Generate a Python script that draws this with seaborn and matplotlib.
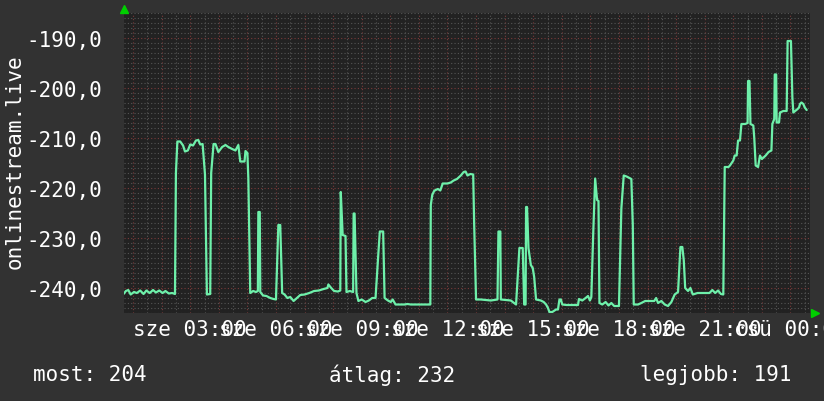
import numpy as np
import pandas as pd
import matplotlib
matplotlib.use("Agg")
import matplotlib.pyplot as plt
from matplotlib.ticker import FuncFormatter, MultipleLocator
import seaborn as sns

# minutes since Wednesday 00:00 and the measured value
minutes = [
    40, 45, 50, 55, 62, 68, 75, 82, 88, 95, 102, 108, 115, 122, 128, 135, 142, 148,
    150, 153, 159, 165, 169, 175, 180, 186, 192, 197, 201, 206, 211, 215, 222,
    224, 229, 233, 239, 247, 254, 260, 268, 275, 281, 285, 294, 296, 300, 302, 306,
    312, 318, 322, 323, 326, 327, 333, 340, 348, 355, 360, 362, 365, 369, 373, 378,
    384, 390, 397, 404, 411, 420, 430, 440, 450, 460, 468, 470, 476, 482, 490, 495,
    496, 500, 506, 508, 515, 522, 523, 525, 529, 533, 540, 548, 555, 562, 569,
    572, 575, 578, 585, 588, 595, 601, 605, 611, 620, 630, 636, 643, 660, 684,
    685, 688, 692, 695, 700, 705, 710, 720, 727, 733, 740, 748, 754, 758, 762, 768,
    774, 776, 780, 790, 800, 811, 825, 827, 831, 832, 843, 853, 864, 871, 878, 881,
    884, 885, 887, 890, 895, 899, 902, 906, 916, 922, 927, 931, 934, 940, 948, 952,
    955, 958, 961, 970, 980, 994, 996, 1003, 1010, 1015, 1019, 1022, 1026, 1030,
    1034, 1037, 1039, 1045, 1052, 1058, 1064, 1070, 1080, 1085, 1090, 1096, 1102,
    1106, 1109, 1111, 1120, 1127, 1135, 1141, 1150, 1154, 1158, 1162, 1169, 1176,
    1183, 1190, 1197, 1204, 1209, 1213, 1216, 1219, 1225, 1230, 1235, 1245, 1255,
    1270, 1276, 1282, 1288, 1294, 1299, 1302, 1310, 1313, 1320, 1323, 1327, 1330,
    1334, 1337, 1345, 1350, 1351, 1354, 1356, 1362, 1364, 1367, 1372, 1376, 1380,
    1388, 1394, 1400, 1402, 1406, 1407, 1410, 1411, 1416, 1418, 1425, 1432, 1434,
    1441, 1444, 1446, 1450, 1455, 1458, 1460, 1463, 1467, 1470, 1474,
]
values = [
    -241.2, -240.6, -240.4, -241.3, -240.8, -241.0, -240.5, -241.2, -240.5, -241.0,
    -240.4, -240.9, -240.5, -241.0, -240.6, -241.1, -241.0, -241.2,
    -217.0, -210.7, -210.7, -211.5, -212.7, -212.5, -211.3, -211.5, -210.5, -210.4,
    -211.3, -211.2, -217.3, -241.3, -241.2,
    -217.0, -211.2, -211.2, -212.8, -211.8, -211.4, -211.8, -212.2, -212.5, -211.4,
    -214.7, -214.7, -212.6, -213.0, -218.1, -241.0,
    -240.6, -240.8, -240.6, -224.8, -224.8, -240.8, -241.5, -241.6, -242.0, -242.2,
    -242.3, -236.6, -227.4, -227.4, -241.0, -241.3,
    -242.0, -241.8, -242.6, -242.0, -241.4, -241.3, -241.0, -240.6, -240.5, -240.2,
    -240.0, -239.3, -240.0, -240.6, -240.7, -240.5,
    -220.8, -229.4, -229.6, -240.8, -240.6, -240.8, -225.1, -225.1, -241.0, -242.6,
    -242.3, -242.8, -242.5, -242.0, -242.0,
    -237.4, -233.0, -228.7, -228.7, -242.0, -242.5, -242.8, -242.3, -243.3, -243.3,
    -243.3, -243.2, -243.3, -243.3, -243.3,
    -223.4, -221.4, -220.6, -220.4, -220.2, -220.5, -219.1, -219.1, -218.9, -218.5,
    -218.2, -217.5, -216.8, -216.7, -217.5, -217.2,
    -217.3, -227.1, -242.3, -242.3, -242.4, -242.5, -242.3, -228.7, -228.7, -242.3,
    -242.4, -242.5, -243.3, -232.0, -232.0, -243.3,
    -243.3, -223.8, -223.8, -232.0, -235.4, -236.0, -237.8, -242.3, -242.5, -242.8,
    -243.3, -244.0, -244.8, -244.8, -244.3, -244.3,
    -242.3, -242.3, -243.3, -243.4, -243.4, -243.4, -242.2, -242.5, -242.0, -241.6,
    -242.5, -241.8, -229.0, -218.1,
    -222.4, -222.6, -243.0, -243.3, -242.8, -243.5, -243.0, -243.6, -243.6, -224.1,
    -217.5, -217.7, -218.0,
    -218.2, -227.4, -243.3, -243.3, -243.0, -242.6, -242.6, -242.6, -242.6, -242.0,
    -243.0, -242.6, -243.3,
    -243.6, -242.8, -241.3, -240.8, -231.8, -231.8, -234.4, -240.0, -240.6, -240.0,
    -241.3, -241.0, -241.0,
    -241.0, -240.4, -241.0, -240.5, -241.2, -241.3, -215.8, -215.8, -215.5, -214.5,
    -213.5, -213.5, -210.5,
    -210.5, -207.2, -207.2, -207.0, -198.6, -198.6, -207.2, -207.5, -210.0, -215.5,
    -215.8, -213.5, -214.2,
    -213.5, -212.8, -212.5, -207.2, -206.2, -197.3, -197.3, -206.9, -206.9, -204.9,
    -204.6, -204.6, -190.6,
    -190.6, -201.9, -204.9, -204.6, -204.2, -203.9, -203.2, -202.9, -203.2, -203.9,
    -204.4,
]

tick_minutes = [180, 360, 540, 720, 900, 1080, 1260, 1440]
tick_labels = ["sze 03:00", "sze 06:00", "sze 09:00", "sze 12:00",
               "sze 15:00", "sze 18:00", "sze 21:00", "csü 00:00"]
series_name = "onlinestream.live"
legend_names = ["most", "átlag", "legjobb"]
legend_values = [204, 232, 191]

BG = "#323232"
PLOT_BG = "#222222"
LINE = "#6ef0aa"
MINOR = "#555555"
MAJOR = "#7a3a3a"

sns.set_style("dark")
plt.rcParams["font.family"] = ["DejaVu Sans Mono", "DejaVu Sans"]

df = pd.DataFrame({"minute": minutes, "value": values})

fig = plt.figure(figsize=(8.24, 4.02), dpi=100, facecolor=BG)
ax = fig.add_axes([124 / 824, 88 / 402, 686 / 824, 300 / 402])
ax.set_facecolor(PLOT_BG)

sns.lineplot(data=df, x="minute", y="value", ax=ax, color=LINE, lw=1.6,
             estimator=None, sort=False, zorder=5)

ax.set_xlim(41, 1481)
ax.set_ylim(-245, -185)

ax.xaxis.set_major_locator(MultipleLocator(60))
ax.xaxis.set_minor_locator(MultipleLocator(30))
ax.yaxis.set_major_locator(MultipleLocator(10))
ax.yaxis.set_minor_locator(MultipleLocator(1))

labels_by_min = dict(zip(tick_minutes, tick_labels))
ax.xaxis.set_major_formatter(FuncFormatter(lambda v, p: labels_by_min.get(int(round(v)), "")))
ax.yaxis.set_major_formatter(FuncFormatter(lambda v, p: f"{v:.1f}".replace(".", ",")))

ax.grid(which="minor", color=MINOR, lw=0.8, ls=(0, (1, 2)), zorder=1)
ax.grid(which="major", color=MAJOR, lw=0.8, ls=(0, (1, 2)), zorder=2)
ax.set_axisbelow(True)

ax.tick_params(which="both", length=0, colors="white", labelsize=15)
ax.tick_params(axis="y", pad=16)
ax.tick_params(axis="x", pad=4)
for s in ax.spines.values():
    s.set_visible(False)
ax.set_xlabel("")
ax.set_ylabel("")

# rrdtool style arrows
ax.plot([0], [1.013], marker="^", ms=6, color="#00d000", transform=ax.transAxes, clip_on=False)
ax.plot([1.007], [0], marker=">", ms=6, color="#00d000", transform=ax.transAxes, clip_on=False)

fig.text(15 / 824, 1 - 162 / 402, series_name, rotation=90, ha="center", va="center",
         color="white", fontsize=15)

fig.text(33 / 824, 1 - 375 / 402, f"{legend_names[0]}: {legend_values[0]}",
         ha="left", va="center", color="white", fontsize=15)
fig.text(329 / 824, 1 - 375 / 402, f"{legend_names[1]}: {legend_values[1]}",
         ha="left", va="center", color="white", fontsize=15)
fig.text(791 / 824, 1 - 375 / 402, f"{legend_names[2]}: {legend_values[2]}",
         ha="right", va="center", color="white", fontsize=15)

fig.savefig("out.png", dpi=100, facecolor=BG)
